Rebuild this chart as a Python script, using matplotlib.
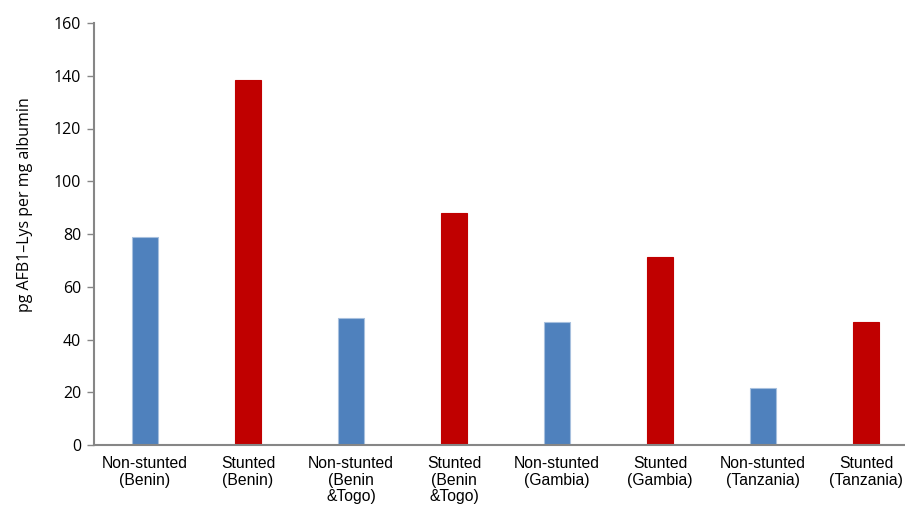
import matplotlib.pyplot as plt

categories = ["Non-stunted\n(Benin)", "Stunted\n(Benin)",
              "Non-stunted\n(Benin\n&Togo)", "Stunted\n(Benin\n&Togo)",
              "Non-stunted\n(Gambia)", "Stunted\n(Gambia)",
              "Non-stunted\n(Tanzania)", "Stunted\n(Tanzania)"]
values = [78.7, 138.2, 48.2, 88.0, 46.8, 71.4, 21.5, 46.7]
colors = ["#4F81BD", "#C00000"] * 4
edges = ["#A7C0DE", "#C00000"] * 4

fig = plt.figure(figsize=(9.05, 5.08), dpi=100)
ax = fig.add_axes([93.5 / 905, 63 / 508, 811.5 / 905, 422 / 508])

x = list(range(len(categories)))
ax.bar(x, values, width=0.25, color=colors, edgecolor=edges, linewidth=0.8, zorder=2)

ax.set_xlim(-0.5, -0.5 + 811.5 / 103)
ax.set_ylim(0, 160)
ax.set_yticks(range(0, 161, 20))
ax.set_xticks(x)
ax.set_xticklabels(categories, fontsize=11.3, family="Liberation Sans", linespacing=1.13)
ax.tick_params(axis="x", length=0, pad=8)
ax.tick_params(axis="y", length=5, width=1, color="#868686", labelsize=11.5, pad=4)
for lab in ax.get_yticklabels():
    lab.set_family("Open Sans")

ax.set_ylabel("pg AFB1\u2013Lys per mg albumin", fontsize=11.5, family="Open Sans")
ax.yaxis.set_label_coords(-0.0746, 0.569)

for s in ["top", "right"]:
    ax.spines[s].set_visible(False)
for s in ["left", "bottom"]:
    ax.spines[s].set_color("#868686")
    ax.spines[s].set_linewidth(1.5)

fig.savefig("out.png", dpi=100)
